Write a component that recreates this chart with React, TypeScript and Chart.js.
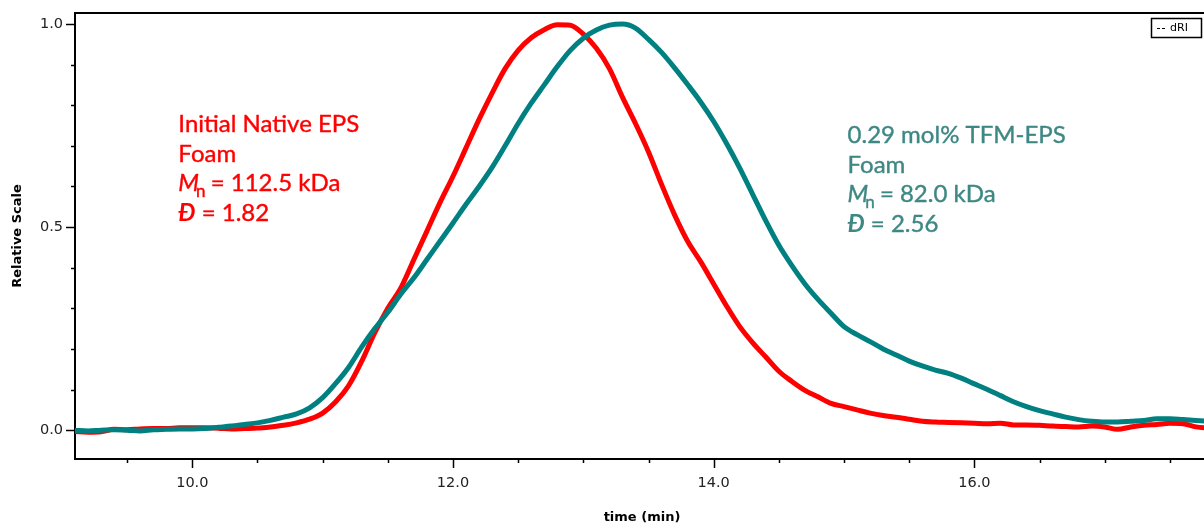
import { useEffect, useRef } from "react";
import { Chart, registerables } from "chart.js";

Chart.register(...registerables);

// Elution time (min)
const TIME = [
  9.1, 9.2, 9.3, 9.4, 9.5, 9.6, 9.7, 9.8, 9.9, 10.0,
  10.1, 10.2, 10.3, 10.4, 10.5, 10.6, 10.7, 10.8, 10.9, 11.0,
  11.1, 11.2, 11.3, 11.4, 11.5, 11.6, 11.7, 11.8, 11.9, 12.0,
  12.1, 12.2, 12.3, 12.4, 12.5, 12.6, 12.7, 12.8, 12.9, 13.0,
  13.1, 13.2, 13.3, 13.4, 13.5, 13.6, 13.7, 13.8, 13.9, 14.0,
  14.1, 14.2, 14.3, 14.4, 14.5, 14.6, 14.7, 14.8, 14.9, 15.0,
  15.1, 15.2, 15.3, 15.4, 15.5, 15.6, 15.7, 15.8, 15.9, 16.0,
  16.1, 16.2, 16.3, 16.4, 16.5, 16.6, 16.7, 16.8, 16.9, 17.0,
  17.1, 17.2, 17.3, 17.4, 17.5, 17.6, 17.7, 17.8,
];

// dRI trace, initial native EPS foam (relative scale)
const NATIVE_EPS = [
  -0.003, -0.005, -0.004, 0.002, 0.001, 0.003, 0.004, 0.004, 0.006, 0.006,
  0.006, 0.005, 0.003, 0.004, 0.005, 0.008, 0.012, 0.018, 0.027, 0.042,
  0.07, 0.11, 0.17, 0.24, 0.3, 0.35, 0.42, 0.49, 0.56, 0.625,
  0.695, 0.765, 0.83, 0.89, 0.935, 0.966, 0.986, 0.998, 0.997, 0.975,
  0.94, 0.89, 0.82, 0.755, 0.685, 0.605, 0.53, 0.465, 0.415, 0.36,
  0.305, 0.255, 0.215, 0.18, 0.145, 0.12, 0.098, 0.082, 0.066, 0.058,
  0.05, 0.042, 0.036, 0.032, 0.027, 0.022, 0.02, 0.019, 0.018, 0.017,
  0.016, 0.017, 0.013, 0.013, 0.012, 0.01, 0.009, 0.008, 0.01, 0.008,
  0.002, 0.008, 0.012, 0.014, 0.017, 0.016, 0.008, 0.005,
];

// dRI trace, 0.29 mol% TFM-EPS foam (relative scale)
const TFM_EPS = [
  0.0, -0.002, 0.0, 0.001, 0.0, -0.002, 0.001, 0.002, 0.003, 0.003,
  0.004, 0.007, 0.01, 0.014, 0.018, 0.024, 0.032, 0.04, 0.055, 0.08,
  0.115, 0.155, 0.205, 0.25, 0.29, 0.335, 0.375, 0.42, 0.465, 0.51,
  0.556, 0.6, 0.647, 0.7, 0.755, 0.805, 0.85, 0.895, 0.935, 0.965,
  0.985, 0.997, 1.0, 0.99, 0.962, 0.93, 0.892, 0.851, 0.808, 0.76,
  0.705, 0.645, 0.58, 0.515, 0.455, 0.405, 0.36, 0.322, 0.288, 0.255,
  0.235, 0.218, 0.2, 0.185, 0.17, 0.158, 0.148, 0.14, 0.128, 0.114,
  0.1, 0.085, 0.07, 0.058, 0.048, 0.04, 0.032, 0.026, 0.022, 0.02,
  0.02, 0.022, 0.024, 0.028, 0.028, 0.026, 0.024, 0.022,
];

const X_LABEL_TICKS = [10, 12, 14, 16];
const Y_LABEL_TICKS = [0, 0.5, 1.0];
const X_MINOR_STEP = 0.5;
const Y_MINOR_STEP = 0.1;

const NATIVE_TEXT = ["Initial Native EPS", "Foam"];
const NATIVE_MN = "112.5 kDa";
const NATIVE_DISPERSITY = "1.82";
const TFM_TEXT = ["0.29 mol% TFM-EPS", "Foam"];
const TFM_MN = "82.0 kDa";
const TFM_DISPERSITY = "2.56";
const LEGEND_LABEL = "dRI";

const RED = "#ff0000";
const TEAL = "#008080";
const TEAL_TEXT = "#3e8884";
const ANNOT_FONT = "Lato";

type Block = { color: string; lines: string[]; mn: string; d: string };

// fill plus a thin stroke of the same colour gives a medium weight
function heavyText(ctx: CanvasRenderingContext2D, t: string, x: number, y: number) {
  ctx.fillText(t, x, y);
  ctx.strokeText(t, x, y);
}

function drawBlock(ctx: CanvasRenderingContext2D, px: number, py: number, b: Block) {
  const size = 24;
  const lh = 29.6;
  ctx.save();
  ctx.fillStyle = b.color;
  ctx.strokeStyle = b.color;
  ctx.lineWidth = 0.4;
  ctx.lineJoin = "round";
  ctx.textBaseline = "alphabetic";
  ctx.textAlign = "left";
  ctx.font = `${size}px ${ANNOT_FONT}`;
  b.lines.forEach((t, i) => heavyText(ctx, t, px, py + i * lh));
  // M_n line
  let y = py + 2 * lh;
  let x = px;
  ctx.font = `italic ${size}px ${ANNOT_FONT}`;
  heavyText(ctx, "M", x, y);
  x += ctx.measureText("M").width - 3;
  ctx.font = `17px ${ANNOT_FONT}`;
  heavyText(ctx, "n", x, y + 6);
  x += ctx.measureText("n").width - 1;
  ctx.font = `${size}px ${ANNOT_FONT}`;
  heavyText(ctx, " = " + b.mn, x, y);
  // dispersity line
  y = py + 3 * lh;
  x = px;
  ctx.font = `italic bold ${size}px ${ANNOT_FONT}`;
  ctx.fillText("\u0110", x, y);
  x += ctx.measureText("\u0110").width;
  ctx.font = `${size}px ${ANNOT_FONT}`;
  heavyText(ctx, " = " + b.d, x, y);
  ctx.restore();
}

const decorations = {
  id: "decorations",
  afterDraw(chart: any) {
    const { ctx, chartArea } = chart;
    const xs = chart.scales.x;
    const ys = chart.scales.y;
    ctx.save();
    ctx.strokeStyle = "#000";
    // top frame line
    ctx.lineWidth = 2;
    ctx.beginPath();
    ctx.moveTo(chartArea.left - 1, chartArea.top);
    ctx.lineTo(chartArea.right + 20, chartArea.top);
    ctx.stroke();
    // tick marks
    ctx.lineWidth = 1.5;
    const kx0 = Math.ceil(xs.min / X_MINOR_STEP);
    const kx1 = Math.floor(xs.max / X_MINOR_STEP);
    for (let k = kx0; k <= kx1; k++) {
      const v = k * X_MINOR_STEP;
      const major = X_LABEL_TICKS.some((t) => Math.abs(t - v) < 1e-6);
      const p = Math.round(xs.getPixelForValue(v)) + 0.5;
      ctx.beginPath();
      ctx.moveTo(p, chartArea.bottom);
      ctx.lineTo(p, chartArea.bottom + (major ? 9 : 4));
      ctx.stroke();
    }
    const ky0 = Math.ceil(ys.min / Y_MINOR_STEP - 1e-6);
    const ky1 = Math.floor(ys.max / Y_MINOR_STEP + 1e-6);
    for (let k = ky0; k <= ky1; k++) {
      const v = k * Y_MINOR_STEP;
      const major = Y_LABEL_TICKS.some((t) => Math.abs(t - v) < 1e-6);
      const p = Math.round(ys.getPixelForValue(v)) + 0.5;
      ctx.beginPath();
      ctx.moveTo(chartArea.left, p);
      ctx.lineTo(chartArea.left - (major ? 9 : 4), p);
      ctx.stroke();
    }
    // legend box
    const lx = chartArea.right - 58;
    const ly = chartArea.top + 5;
    ctx.lineWidth = 1.5;
    ctx.strokeRect(lx + 0.5, ly + 0.5, 50, 19);
    ctx.lineWidth = 1;
    ctx.setLineDash([3, 2]);
    ctx.beginPath();
    ctx.moveTo(lx + 6, ly + 10.5);
    ctx.lineTo(lx + 15, ly + 10.5);
    ctx.stroke();
    ctx.setLineDash([]);
    ctx.fillStyle = "#000";
    ctx.font = "11px 'DejaVu Sans'";
    ctx.textBaseline = "middle";
    ctx.fillText(LEGEND_LABEL, lx + 19, ly + 10.5);
    ctx.restore();

    drawBlock(ctx, xs.getPixelForValue(9.893), ys.getPixelForValue(0.734), {
      color: RED, lines: NATIVE_TEXT, mn: NATIVE_MN, d: NATIVE_DISPERSITY,
    });
    drawBlock(ctx, xs.getPixelForValue(15.027), ys.getPixelForValue(0.707), {
      color: TEAL_TEXT, lines: TFM_TEXT, mn: TFM_MN, d: TFM_DISPERSITY,
    });
  },
};

export default function App() {
  const ref = useRef<HTMLCanvasElement | null>(null);

  useEffect(() => {
    if (!ref.current) return;
    const tickFont = { family: "'DejaVu Sans'", size: 14.5 };
    const titleFont = { family: "'DejaVu Sans'", size: 13, weight: "bold" as const };
    const chart = new Chart(ref.current, {
      type: "line",
      data: {
        datasets: [
          {
            label: "0.29 mol% TFM-EPS Foam",
            data: TIME.map((t, i) => ({ x: t, y: TFM_EPS[i] })),
            borderColor: TEAL,
            borderWidth: 5,
            pointRadius: 0,
            cubicInterpolationMode: "monotone",
            order: 0,
          },
          {
            label: "Initial Native EPS Foam",
            data: TIME.map((t, i) => ({ x: t, y: NATIVE_EPS[i] })),
            borderColor: RED,
            borderWidth: 5,
            pointRadius: 0,
            cubicInterpolationMode: "monotone",
            order: 1,
          },
        ],
      },
      options: {
        animation: false,
        responsive: false,
        devicePixelRatio: 1,
        layout: { padding: { top: 13, right: 11, bottom: 0, left: 0 } },
        plugins: { legend: { display: false }, tooltip: { enabled: false } },
        scales: {
          x: {
            type: "linear",
            min: 9.1,
            max: 17.8,
            afterFit: (s: any) => {
              s.height = 68;
              s.paddingLeft = 0;
              s.paddingRight = 0;
            },
            afterBuildTicks: (s: any) => {
              s.ticks = X_LABEL_TICKS.map((v) => ({ value: v }));
            },
            ticks: {
              callback: (v: any) => Number(v).toFixed(1),
              font: tickFont,
              color: "#222",
              padding: 16,
              autoSkip: false,
              maxRotation: 0,
            },
            grid: { display: false, drawTicks: false },
            border: { display: true, color: "#000", width: 2 },
            title: {
              display: true,
              text: "time (min)",
              font: titleFont,
              color: "#000",
              padding: { top: 0, bottom: 2 },
            },
          },
          y: {
            type: "linear",
            min: -0.071,
            max: 1.027,
            afterFit: (s: any) => {
              s.width = 75;
              s.paddingTop = 0;
              s.paddingBottom = 0;
            },
            afterBuildTicks: (s: any) => {
              s.ticks = Y_LABEL_TICKS.map((v) => ({ value: v }));
            },
            ticks: {
              callback: (v: any) => Number(v).toFixed(1),
              font: tickFont,
              color: "#222",
              padding: 12,
              autoSkip: false,
            },
            grid: { display: false, drawTicks: false },
            border: { display: true, color: "#000", width: 2 },
            title: {
              display: true,
              text: "Relative Scale",
              font: titleFont,
              color: "#000",
              padding: { top: 10, bottom: 0 },
            },
          },
        },
      },
      plugins: [decorations],
    });
    return () => chart.destroy();
  }, []);

  return (
    <div
      style={{
        position: "absolute",
        left: 0,
        top: 0,
        width: 1204,
        height: 527,
        overflow: "hidden",
        background: "#fff",
      }}
    >
      <canvas ref={ref} width={1220} height={527} style={{ width: 1220, height: 527, display: "block" }} />
    </div>
  );
}
